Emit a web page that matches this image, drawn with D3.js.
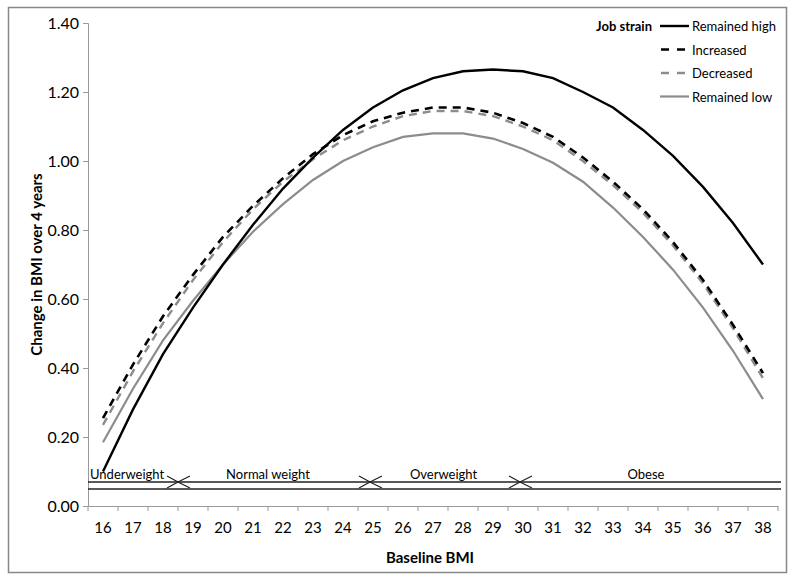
<!DOCTYPE html>
<html>
<head>
<meta charset="utf-8">
<script src="https://cdn.jsdelivr.net/npm/d3@7"></script>
<style>
  body { margin: 0; background: #fff; }
  svg text { font-family: Lato, "Open Sans", sans-serif; fill: #000; }
</style>
</head>
<body>
<div id="chart"></div>
<script>
const bmi = [16, 17, 18, 19, 20, 21, 22, 23, 24, 25, 26, 27, 28, 29, 30, 31, 32, 33, 34, 35, 36, 37, 38];
const remainedHigh = [0.10, 0.28, 0.44, 0.575, 0.70, 0.815, 0.92, 1.01, 1.09, 1.155, 1.205, 1.24, 1.26, 1.265, 1.26, 1.24, 1.20, 1.155, 1.09, 1.015, 0.925, 0.82, 0.70];
const increased = [0.255, 0.41, 0.55, 0.67, 0.78, 0.87, 0.95, 1.02, 1.075, 1.115, 1.14, 1.155, 1.155, 1.14, 1.11, 1.07, 1.01, 0.94, 0.86, 0.765, 0.655, 0.525, 0.385];
const decreased = [0.235, 0.39, 0.53, 0.655, 0.765, 0.86, 0.94, 1.005, 1.06, 1.10, 1.13, 1.145, 1.145, 1.13, 1.10, 1.06, 1.00, 0.93, 0.85, 0.755, 0.645, 0.515, 0.37];
const remainedLow = [0.185, 0.34, 0.48, 0.595, 0.70, 0.795, 0.875, 0.945, 1.00, 1.04, 1.07, 1.08, 1.08, 1.065, 1.035, 0.995, 0.94, 0.865, 0.78, 0.685, 0.575, 0.45, 0.31];
const seriesNames = ['Remained high', 'Increased', 'Decreased', 'Remained low'];
const yTicks = [0, 0.2, 0.4, 0.6, 0.8, 1.0, 1.2, 1.4];
const weightNames = ['Underweight', 'Normal weight', 'Overweight', 'Obese'];
const weightLabelAt = [16, 21.5, 27.35, 34.1];
const weightBounds = [18.5, 24.9, 29.9];

const width = 795;
const height = 581;
const margin = { top: 23, right: 17, bottom: 75, left: 88 };

const svg = d3.select('#chart')
  .append('svg')
  .attr('width', width)
  .attr('height', height);

// outer frame
svg.append('rect')
  .attr('x', 8.5).attr('y', 7.5)
  .attr('width', 778).attr('height', 565)
  .attr('fill', '#fff')
  .attr('stroke', '#888')
  .attr('stroke-width', 1.5);

const xScale = d3.scaleBand()
  .domain(bmi)
  .range([margin.left, width - margin.right]);

const xPos = v => xScale(v) + xScale.bandwidth() / 2;
const xLin = d3.scaleLinear()
  .domain([bmi[0], bmi[bmi.length - 1]])
  .range([xPos(bmi[0]), xPos(bmi[bmi.length - 1])]);

const yScale = d3.scaleLinear()
  .domain([0, 1.4])
  .range([height - margin.bottom, margin.top]);

// y axis
const yAxis = d3.axisLeft(yScale)
  .tickValues(yTicks)
  .tickFormat(d3.format('.2f'))
  .tickSize(5)
  .tickPadding(4);

const gy = svg.append('g')
  .attr('transform', `translate(${margin.left}, 0)`)
  .call(yAxis);
gy.select('.domain').attr('stroke', '#999');
gy.selectAll('.tick line').attr('stroke', '#999');
gy.selectAll('.tick text').attr('font-size', 16).attr('font-family', 'Lato');

// x axis, ticks between categories
const gx = svg.append('g')
  .attr('transform', `translate(0, ${yScale(0)})`)
  .call(d3.axisBottom(xScale).tickSize(0).tickPadding(16));
gx.select('.domain').attr('stroke', '#999');
gx.selectAll('.tick text').attr('font-size', 15).attr('font-family', 'Lato');
gx.selectAll('.sep')
  .data(bmi.concat([null]))
  .enter()
  .append('line')
  .attr('x1', (d, i) => margin.left + i * xScale.bandwidth())
  .attr('x2', (d, i) => margin.left + i * xScale.bandwidth())
  .attr('y1', 0)
  .attr('y2', 5)
  .attr('stroke', '#999');

// axis titles
svg.append('text')
  .attr('x', xLin(26.9))
  .attr('y', 563)
  .attr('text-anchor', 'middle')
  .attr('font-size', 15)
  .attr('font-weight', 'bold')
  .text('Baseline BMI');

svg.append('text')
  .attr('transform', `translate(42, ${yScale(0.7)}) rotate(-90)`)
  .attr('text-anchor', 'middle')
  .attr('font-size', 15)
  .attr('font-weight', 'bold')
  .text('Change in BMI over 4 years');

// weight category band
const bandY1 = 482;
const bandY2 = 489;
const x0 = margin.left;
const x1 = width - margin.right + 3;
[bandY1, bandY2].forEach(y => {
  svg.append('line')
    .attr('x1', x0).attr('x2', x1)
    .attr('y1', y).attr('y2', y)
    .attr('stroke', '#222').attr('stroke-width', 1.3);
});

weightBounds.forEach(b => {
  const bx = xLin(b);
  svg.append('path')
    .attr('d', `M${bx - 11},${bandY1 - 6}L${bx},${bandY1}L${bx - 11},${bandY1 + 6}`)
    .attr('fill', 'none').attr('stroke', '#222').attr('stroke-width', 1.2);
  svg.append('path')
    .attr('d', `M${bx + 12},${bandY1 - 6}L${bx},${bandY1}L${bx + 12},${bandY1 + 6}`)
    .attr('fill', 'none').attr('stroke', '#222').attr('stroke-width', 1.2);
});

weightNames.forEach((n, i) => {
  svg.append('text')
    .attr('x', i === 0 ? x0 + 2 : xLin(weightLabelAt[i]))
    .attr('y', 479)
    .attr('text-anchor', i === 0 ? 'start' : 'middle')
    .attr('font-size', 13)
    .text(n);
});

// series lines
const styles = [
  { color: '#000', width: 2.4, dash: null },
  { color: '#000', width: 2.6, dash: '8,6' },
  { color: '#8c8c8c', width: 2.4, dash: '8,6' },
  { color: '#8c8c8c', width: 2.2, dash: null }
];
const allSeries = [remainedHigh, increased, decreased, remainedLow];

const line = d3.line()
  .x((d, i) => xPos(bmi[i]))
  .y(d => yScale(d));

[3, 2, 1, 0].forEach(k => {
  svg.append('path')
    .datum(allSeries[k])
    .attr('d', line)
    .attr('fill', 'none')
    .attr('stroke', styles[k].color)
    .attr('stroke-width', styles[k].width)
    .attr('stroke-dasharray', styles[k].dash);
});

// legend
svg.append('text')
  .attr('x', 652)
  .attr('y', 31)
  .attr('text-anchor', 'end')
  .attr('font-size', 13)
  .attr('font-weight', 'bold')
  .text('Job strain');

seriesNames.forEach((n, i) => {
  const y = 26 + i * 23.5;
  svg.append('line')
    .attr('x1', 660).attr('x2', 689)
    .attr('y1', y).attr('y2', y)
    .attr('stroke', styles[i].color)
    .attr('stroke-width', styles[i].width)
    .attr('stroke-dasharray', styles[i].dash ? '8,8' : null)
    .attr('stroke-dashoffset', styles[i].dash ? -1 : null);
  svg.append('text')
    .attr('x', 692)
    .attr('y', y + 5)
    .attr('font-size', 13)
    .text(n);
});
</script>
</body>
</html>
